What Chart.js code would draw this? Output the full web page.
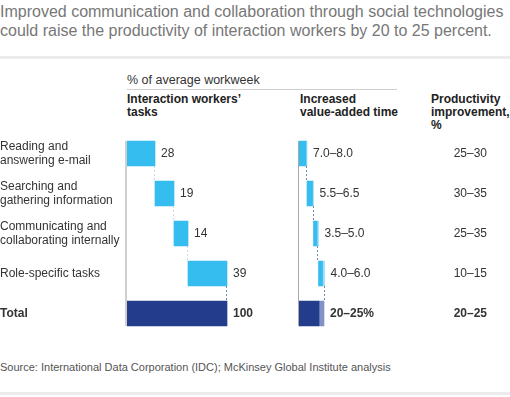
<!DOCTYPE html>
<html lang="en">
<head>
<meta charset="UTF-8">
<title>Social technologies and interaction workers</title>
<script src="https://cdn.jsdelivr.net/npm/chart.js"></script>
<style>
  body { margin: 0; width: 510px; height: 397px; position: relative; overflow: hidden; background: #fff;
         font-family: "Liberation Sans", Arial, Helvetica, sans-serif; }
  .abs { position: absolute; white-space: nowrap; }
  #title { left: 0; top: 2px; font-size: 16px; line-height: 19px; color: #777; }
  .rule { left: 0; width: 510px; height: 3px; background: #ececec; }
  #unit { left: 127px; top: 73px; font-size: 12.5px; line-height: 14px; color: #333; }
  #unitLine { left: 127px; top: 89px; width: 270px; height: 1px; background: #cfcfcf; }
  .head { top: 93px; font-size: 12px; font-weight: bold; line-height: 13px; color: #222; }
  #source { left: 0; top: 361px; font-size: 11px; line-height: 12px; color: #555; }
</style>
</head>
<body>
<div id="title" class="abs">Improved communication and collaboration through social technologies<br>could raise the productivity of interaction workers by 20 to 25 percent.</div>
<div class="abs rule" style="top:56px"></div>
<div id="unit" class="abs">% of average workweek</div>
<div id="unitLine" class="abs"></div>
<div class="abs head" style="left:127px">Interaction workers’<br>tasks</div>
<div class="abs head" style="left:300px">Increased<br>value-added time</div>
<div class="abs head" style="left:431px">Productivity<br>improvement,<br>%</div>
<canvas id="tasksChart" class="abs" width="290" height="240" style="left:0;top:114px"></canvas>
<canvas id="timeChart" class="abs" width="197" height="240" style="left:290px;top:114px"></canvas>
<div id="source" class="abs">Source: International Data Corporation (IDC); McKinsey Global Institute analysis</div>
<div class="abs rule" style="top:392px"></div>

<script>
// data
const categories = [['Reading and', 'answering e-mail'], ['Searching and', 'gathering information'],
                    ['Communicating and', 'collaborating internally'], 'Role-specific tasks', 'Total'];
const taskShare = [28, 19, 14, 39];
const taskTotal = 100;
const addedLow = [7.0, 5.5, 3.5, 4.0];
const addedHigh = [8.0, 6.5, 5.0, 6.0];
const addedTotal = [20, 25];
const productivity = ['25–30', '30–35', '25–35', '10–15', '20–25'];

const CYAN = '#36bdef', NAVY = '#233c8c', PALE = '#9bdbf6', PALE_NAVY = '#8491c7';
const FONT = '"Liberation Sans", Arial, Helvetica, sans-serif';

// waterfall starts
let acc = 0;
const taskBars = taskShare.map(v => { const r = [acc, acc + v]; acc += v; return r; });
taskBars.push([0, taskTotal]);

acc = 0;
const darkBars = [], lightBars = [];
addedLow.forEach((lo, i) => {
    darkBars.push([acc, acc + lo]);
    lightBars.push([acc + lo, acc + addedHigh[i]]);
    acc += addedHigh[i];
});
darkBars.push([0, addedTotal[0]]);
lightBars.push([addedTotal[0], addedTotal[1]]);

const rangeLabel = i => addedLow[i].toFixed(1) + '–' + addedHigh[i].toFixed(1);

// draws the axis line, dashed connectors and value labels
const waterfallDecor = {
    id: 'waterfallDecor',
    afterDatasetsDraw(chart, args, opts) {
        const ctx = chart.ctx;
        const bars = chart.getDatasetMeta(opts.endDataset).data;
        const x0 = chart.scales.x.getPixelForValue(0);
        const top = bars[0].y - bars[0].height / 2;
        const last = bars[bars.length - 1];
        ctx.save();
        ctx.fillStyle = opts.axisColor;
        ctx.fillRect(x0 - opts.axisWidth, top, opts.axisWidth, last.y + last.height / 2 - top);

        ctx.lineWidth = 1;
        ctx.setLineDash([2, 2]);
        for (let i = 0; i < bars.length - 1; i++) {
            const b = bars[i], n = bars[i + 1];
            const x = Math.round(b.x) - 0.5;
            ctx.strokeStyle = opts.connColors[i];
            ctx.beginPath();
            ctx.moveTo(x, b.y + b.height / 2);
            ctx.lineTo(x, n.y - n.height / 2);
            ctx.stroke();
        }
        ctx.setLineDash([]);

        ctx.fillStyle = '#333';
        ctx.textBaseline = 'middle';
        bars.forEach((b, i) => {
            const bold = i === bars.length - 1;
            ctx.font = (bold ? 'bold ' : '') + '12px ' + FONT;
            ctx.textAlign = 'left';
            ctx.fillText(opts.labels[i], b.x + 6, b.y);
            if (opts.rightLabels) {
                ctx.textAlign = 'right';
                ctx.fillText(opts.rightLabels[i], chart.chartArea.right, b.y);
            }
        });
        ctx.restore();
    }
};

new Chart(document.getElementById('tasksChart'), {
    type: 'bar',
    data: {
        labels: categories,
        datasets: [{
            data: taskBars,
            backgroundColor: [CYAN, CYAN, CYAN, CYAN, NAVY],
            barThickness: 25,
            borderWidth: 0
        }]
    },
    options: {
        indexAxis: 'y',
        responsive: false,
        animation: false,
        layout: { padding: { top: 19.5, bottom: 20.5, left: 0, right: 0 } },
        scales: {
            x: { display: false, min: 0, max: 163 },
            y: {
                grid: { display: false },
                border: { display: false },
                ticks: {
                    color: '#333',
                    crossAlign: 'far',
                    padding: 0,
                    autoSkip: false,
                    font: c => ({ family: FONT, size: 12, lineHeight: 1.17, weight: c.index === 4 ? 'bold' : 'normal' })
                },
                afterFit: s => { s.width = 127; }
            }
        },
        plugins: {
            legend: { display: false },
            tooltip: { enabled: false },
            waterfallDecor: {
                endDataset: 0,
                axisColor: '#cfcfcf',
                axisWidth: 2,
                connColors: ['#c5dce9', '#c5dce9', '#c5dce9', '#6e8cab'],
                labels: taskShare.map(String).concat(String(taskTotal))
            }
        }
    },
    plugins: [waterfallDecor]
});

new Chart(document.getElementById('timeChart'), {
    type: 'bar',
    data: {
        labels: categories,
        datasets: [{
            data: darkBars,
            backgroundColor: [CYAN, CYAN, CYAN, CYAN, NAVY],
            barThickness: 25,
            borderWidth: 0,
            grouped: false
        }, {
            data: lightBars,
            backgroundColor: [PALE, PALE, PALE, PALE, PALE_NAVY],
            barThickness: 25,
            borderWidth: 0,
            grouped: false
        }]
    },
    options: {
        indexAxis: 'y',
        responsive: false,
        animation: false,
        layout: { padding: { top: 19.5, bottom: 20.5, left: 0, right: 0 } },
        scales: {
            x: { display: false, min: -9, max: 188 },
            y: { display: false }
        },
        plugins: {
            legend: { display: false },
            tooltip: { enabled: false },
            waterfallDecor: {
                endDataset: 1,
                axisColor: '#a9a9a9',
                axisWidth: 1,
                connColors: ['#6e8cab', '#6e8cab', '#6e8cab', '#6e8cab'],
                labels: addedLow.map((v, i) => rangeLabel(i)).concat(addedTotal.join('–') + '%'),
                rightLabels: productivity
            }
        }
    },
    plugins: [waterfallDecor]
});
</script>
</body>
</html>
